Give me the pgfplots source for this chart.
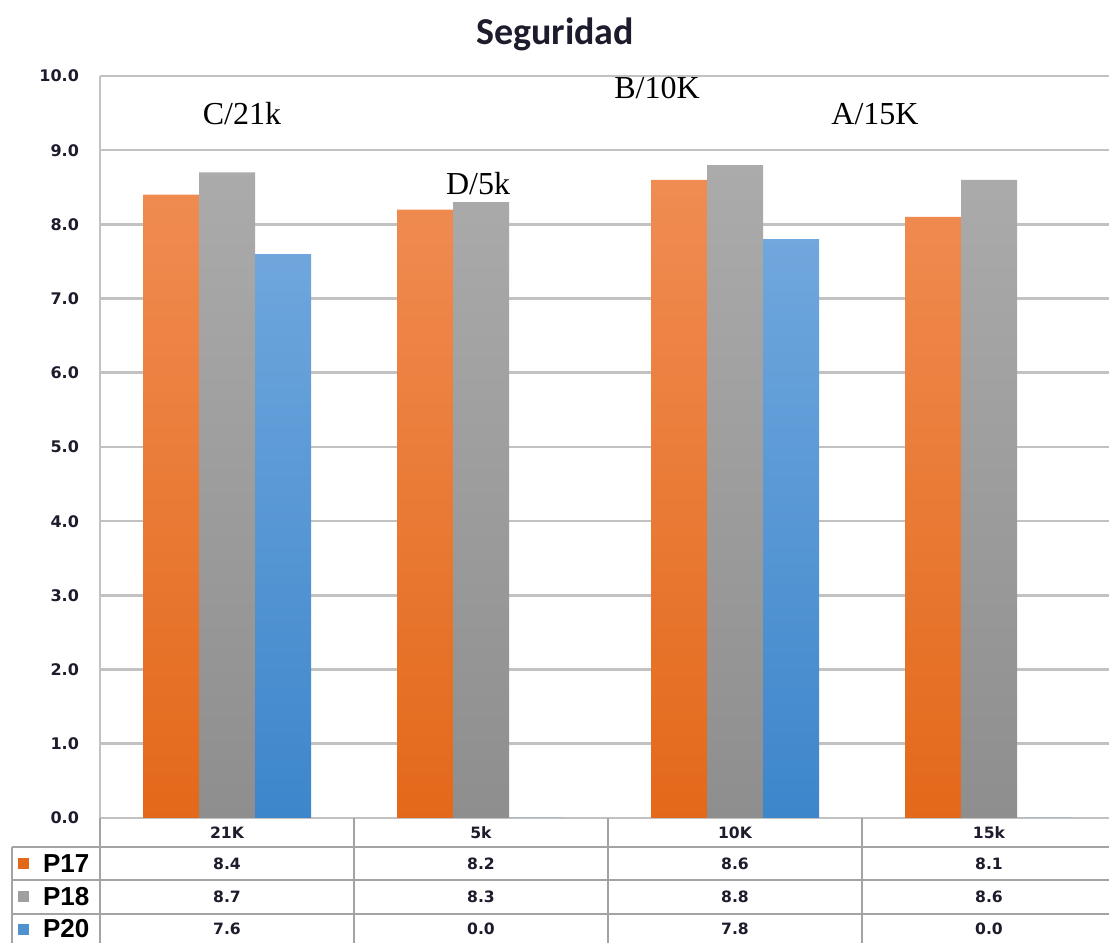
\documentclass[border=0pt]{standalone}
\usepackage{fontspec}
\usepackage{pgfplots}
\pgfplotsset{compat=1.18}
\setmainfont{Liberation Sans}
\newfontfamily\titlefont{Carlito}
\newfontfamily\numfont{DejaVu Sans}
\newfontfamily\seriffont{Liberation Serif}

\definecolor{orangeT}{HTML}{F08C52}
\definecolor{orangeB}{HTML}{E3691A}
\definecolor{grayT}{HTML}{ABABAB}
\definecolor{grayB}{HTML}{8E8E8E}
\definecolor{blueT}{HTML}{70A7DD}
\definecolor{blueB}{HTML}{3D86CB}
\definecolor{gridgray}{HTML}{C2C2C2}
\definecolor{tablegray}{HTML}{A3A3A3}
\definecolor{ink}{HTML}{1C1C2C}

\begin{document}
\begin{tikzpicture}
\path[use as bounding box] (0,0) rectangle (554.5pt,471.5pt);
\clip (0,0) rectangle (554.5pt,471.5pt);

% title
\node[anchor=base, text=ink, font=\titlefont\bfseries\fontsize{19}{22}\selectfont]
  at (277.5pt,449pt) {Seguridad};

\begin{axis}[
  at={(50pt,62.5pt)}, anchor=south west,
  scale only axis, width=508pt, height=371pt,
  xmin=-0.5, xmax=3.5, ymin=0, ymax=10,
  ybar=0pt, bar width=28pt,
  xtick=\empty, ytick={0,1,...,10},
  ymajorgrids, grid style={gridgray, line width=1.3pt},
  axis x line*=bottom, axis y line*=left,
  axis line style={gridgray, line width=1.3pt, -},
  major tick length=0pt,
  yticklabel style={font=\numfont\bfseries\fontsize{8}{9}\selectfont, text=ink,
    xshift=-7pt, /pgf/number format/.cd, fixed, fixed zerofill, precision=1,
    assume math mode=true},
]
% P17
\addplot[draw=none, top color=orangeT, bottom color=orangeB]
  coordinates {(0,8.4) (1,8.2) (2,8.6) (3,8.1)};
% P18
\addplot[draw=none, top color=grayT, bottom color=grayB]
  coordinates {(0,8.7) (1,8.3) (2,8.8) (3,8.6)};
% P20
\addplot[draw=none, top color=blueT, bottom color=blueB]
  coordinates {(0,7.6) (1,0) (2,7.8) (3,0)};
\end{axis}

% race annotations
\begin{scope}[every node/.style={anchor=base, font=\seriffont\fontsize{16}{19}\selectfont}]
  \node at (121pt,409pt) {C/21k};
  \node at (239pt,374pt) {D/5k};
  \node at (328.5pt,422pt) {B/10K};
  \node at (437.5pt,409pt) {A/15K};
\end{scope}

% data table under the axis
\begin{scope}[tablegray, line width=1pt]
  \draw (6pt,48pt) -- (554.5pt,48pt);
  \draw (6pt,31.5pt) -- (554.5pt,31.5pt);
  \draw (6pt,14.5pt) -- (554.5pt,14.5pt);
  \draw (6pt,48pt) -- (6pt,0pt);
  \draw (50pt,62.5pt) -- (50pt,0pt);
  \draw (177pt,62.5pt) -- (177pt,0pt);
  \draw (304pt,62.5pt) -- (304pt,0pt);
  \draw (431pt,62.5pt) -- (431pt,0pt);
\end{scope}

\begin{scope}[every node/.style={text=ink, font=\numfont\bfseries\fontsize{7.8}{9}\selectfont}]
  \foreach \cx/\cat/\a/\b/\c in {113.5/21K/8.4/8.7/7.6, 240.5/5k/8.2/8.3/0.0,
                                 367.5/10K/8.6/8.8/7.8, 494.5/15k/8.1/8.6/0.0}{
    \node at (\cx pt,55.25pt) {\cat};
    \node at (\cx pt,39.75pt) {\a};
    \node at (\cx pt,23pt) {\b};
    \node at (\cx pt,7pt) {\c};
  }
\end{scope}

% legend keys
\begin{scope}[every node/.style={anchor=west, font=\bfseries\fontsize{13}{15}\selectfont}]
  \fill[orangeB] (9pt,37pt) rectangle ++(5.5pt,5.5pt);
  \node at (18pt,39.75pt) {P17};
  \fill[grayB!85] (9pt,20.25pt) rectangle ++(5.5pt,5.5pt);
  \node at (18pt,23pt) {P18};
  \fill[blueB!90] (9pt,4.25pt) rectangle ++(5.5pt,5.5pt);
  \node at (18pt,7pt) {P20};
\end{scope}
\end{tikzpicture}
\end{document}
